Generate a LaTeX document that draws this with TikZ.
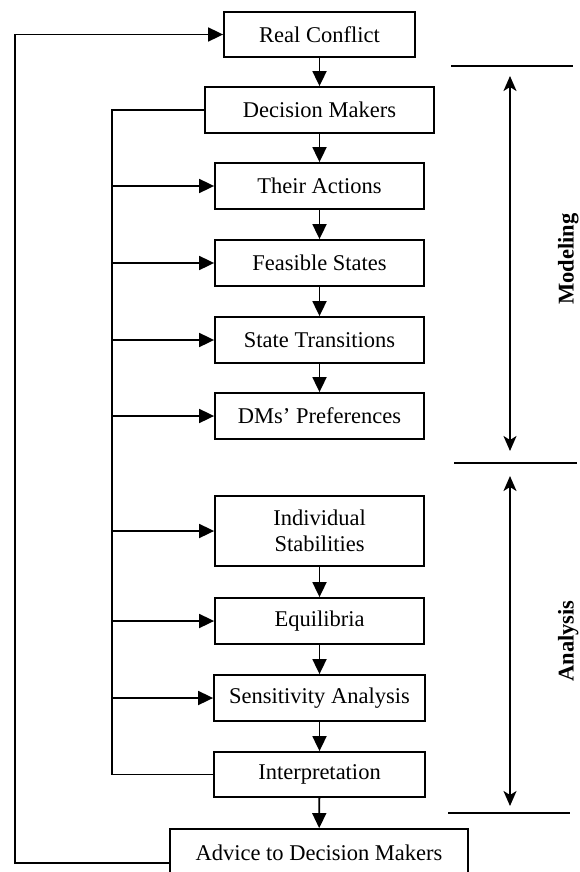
\documentclass[tikz,border=0pt]{standalone}
\usepackage{fontspec}
\setmainfont{Liberation Serif}
\usetikzlibrary{arrows.meta}

\begin{document}
\begin{tikzpicture}[x=1pt,y=-1pt,
  every node/.style={font=\fontsize{22.5}{26}\selectfont},
  box/.style={draw, line width=1.8pt, inner sep=0pt, align=center,
              minimum width=209pt, minimum height=46pt},
  link/.style={line width=1.8pt},
  flow/.style={line width=1.8pt, -{Triangle[length=15pt,width=14pt]}},
  span/.style={line width=1.8pt, {Stealth[length=15pt,width=13pt,inset=4pt]}-{Stealth[length=15pt,width=13pt,inset=4pt]}},
  phase/.style={rotate=90, anchor=base, font=\fontsize{22.5}{26}\selectfont\bfseries}]

\useasboundingbox (0,0) rectangle (579,872);

% main chain of steps
\node[box, minimum width=191pt, minimum height=45pt] (rc) at (319.5,34.5) {Real Conflict};
\node[box, minimum width=229pt] (dm) at (319.5,110) {Decision Makers};
\node[box] (ta) at (319.5,186) {Their Actions};
\node[box] (fs) at (319.5,263) {Feasible States};
\node[box] (st) at (319.5,340) {State Transitions};
\node[box] (dp) at (319.5,416) {DMs’ Preferences};
\node[box, minimum height=70pt] (is) at (319.5,531) {Individual\\Stabilities};
\node[box] (eq) at (319.5,621) {Equilibria};
\node[box, minimum width=211pt] (sa) at (319.5,698) {Sensitivity Analysis};
\node[box, minimum width=211pt, minimum height=45pt] (ip) at (319.5,774.5) {Interpretation};
\node[box, minimum width=298pt, minimum height=48pt] (ad) at (319,853) {Advice to Decision Makers};

% downward arrows between steps
\draw[flow] (rc) -- (dm);
\draw[flow] (dm) -- (ta);
\draw[flow] (ta) -- (fs);
\draw[flow] (fs) -- (st);
\draw[flow] (st) -- (dp);
\draw[flow] (is) -- (eq);
\draw[flow] (eq) -- (sa);
\draw[flow] (sa) -- (ip);
\draw[flow] (ip) -- (ad);

% inner feedback bus from Decision Makers / Interpretation
\coordinate (inner) at (112,0);
\draw[link] (dm.west) -| (inner |- ip.west) -- (ip.west);
\foreach \n in {ta,fs,st,dp,is,eq,sa}
  \draw[flow] (inner |- \n.west) -- (\n.west);

% outer loop from the advice back to the real conflict
\coordinate (outer) at (15,0);
\draw[flow] ([yshift=-10pt]ad.west) -| (outer |- rc.west) -- (rc.west);

% phase brackets on the right
\coordinate (m1) at (451,66);  \coordinate (m2) at (573,66);
\coordinate (s1) at (454,463); \coordinate (s2) at (577,463);
\coordinate (e1) at (448,813); \coordinate (e2) at (570,813);
\draw[link] (m1) -- (m2);
\draw[link] (s1) -- (s2);
\draw[link] (e1) -- (e2);

\coordinate (ma) at (510,76);  \coordinate (mb) at (510,451);
\coordinate (aa) at (510,476); \coordinate (ab) at (510,806);
\draw[span] (ma) -- (mb);
\draw[span] (aa) -- (ab);

\node[phase] (modeling) at (573.5,259) {Modeling};
\node[phase] (analysis) at (573.5,641) {Analysis};

\end{tikzpicture}
\end{document}
